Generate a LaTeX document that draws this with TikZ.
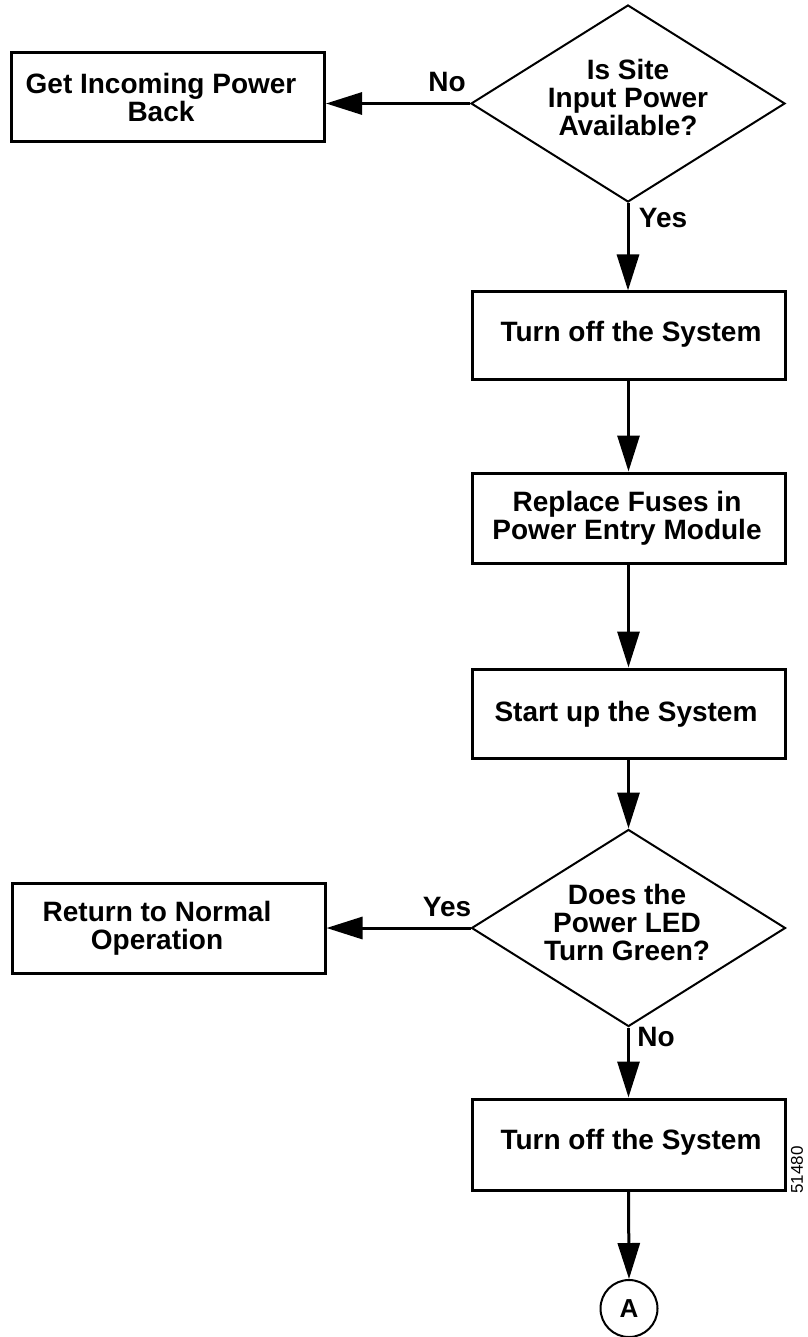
\documentclass[tikz,border=0pt]{standalone}
\usepackage{fontspec}
\setmainfont{Liberation Sans}
\usetikzlibrary{arrows.meta,shapes.geometric}

\tikzset{
  stepbox/.style={draw, line width=3pt, minimum width=313pt, inner sep=0pt},
  decision/.style={draw, diamond, line width=2pt, inner sep=0pt, aspect=1.594,
                   minimum width=314pt, minimum height=197pt},
  txt/.style={font=\fontsize{28}{28}\selectfont\bfseries, align=center, inner sep=0pt},
  lbl/.style={font=\fontsize{28}{28}\selectfont\bfseries, inner sep=0pt},
  flow/.style={line width=3pt, -{Triangle[length=36pt 0 0,width=22pt 0 0]}},
}

\begin{document}
\begin{tikzpicture}[x=1pt, y=-1pt]
  \useasboundingbox (0,0) rectangle (807,1337);

  % shapes
  \node[decision] (d1) at (628,103.5) {};
  \node[stepbox, minimum height=89pt] (getback) at (168,97.5) {};
  \node[stepbox, minimum height=87pt] (off1) at (628.5,335.5) {};
  \node[stepbox, minimum height=90pt] (fuses) at (628.5,518) {};
  \node[stepbox, minimum height=89pt] (start) at (628.5,713.5) {};
  \node[decision] (d2) at (628.5,928) {};
  \node[stepbox, minimum height=90pt] (normal) at (168.5,928) {};
  \node[stepbox, minimum height=91pt] (off2) at (628.5,1144.5) {};
  \node[draw, circle, line width=2pt, minimum size=57pt, inner sep=0pt,
        font=\fontsize{26}{26}\selectfont\bfseries] (conA) at (629,1308.5) {A};

  % texts
  \node[txt] (d1t) at (628,97.5) {Is Site\\Input Power\\Available?};
  \node[txt] (getbackt) at (161,97.5) {Get Incoming Power\\Back};
  \node[txt] (off1t) at (631,334.5) {Turn off the System};
  \node[txt] (fusest) at (627,518) {Replace Fuses in\\Power Entry Module};
  \node[txt] (startt) at (626,714.5) {Start up the System};
  \node[txt] (d2t) at (627,922) {Does the\\Power LED\\Turn Green?};
  \node[txt] (normalt) at (157,928.5) {Return to Normal\\Operation};
  \node[txt] (off2t) at (631,1142.5) {Turn off the System};

  % connectors
  \draw[flow] (d1.west) -- (d1.west -| getback.east);
  \draw[flow] (d1.south) -- (d1.south |- off1.north);
  \draw[flow] (off1.south) -- (fuses.north);
  \draw[flow] (fuses.south) -- (start.north);
  \draw[flow] (start.south) -- (d2.north);
  \draw[flow] (d2.west) -- (d2.west -| normal.east);
  \draw[flow] (d2.south) -- (d2.south |- off2.north);
  \draw[flow] (off2.south) -- (conA.north);

  % branch labels
  \node[lbl] (no1) at (447,82) {No};
  \node[lbl] (yes1) at (663,218) {Yes};
  \node[lbl] (yes2) at (447,907) {Yes};
  \node[lbl] (no2) at (656,1037) {No};

  % figure number
  \node[font=\fontsize{17}{17}\selectfont, rotate=90, inner sep=0pt] (fignum) at (797,1170) {51480};
\end{tikzpicture}
\end{document}
